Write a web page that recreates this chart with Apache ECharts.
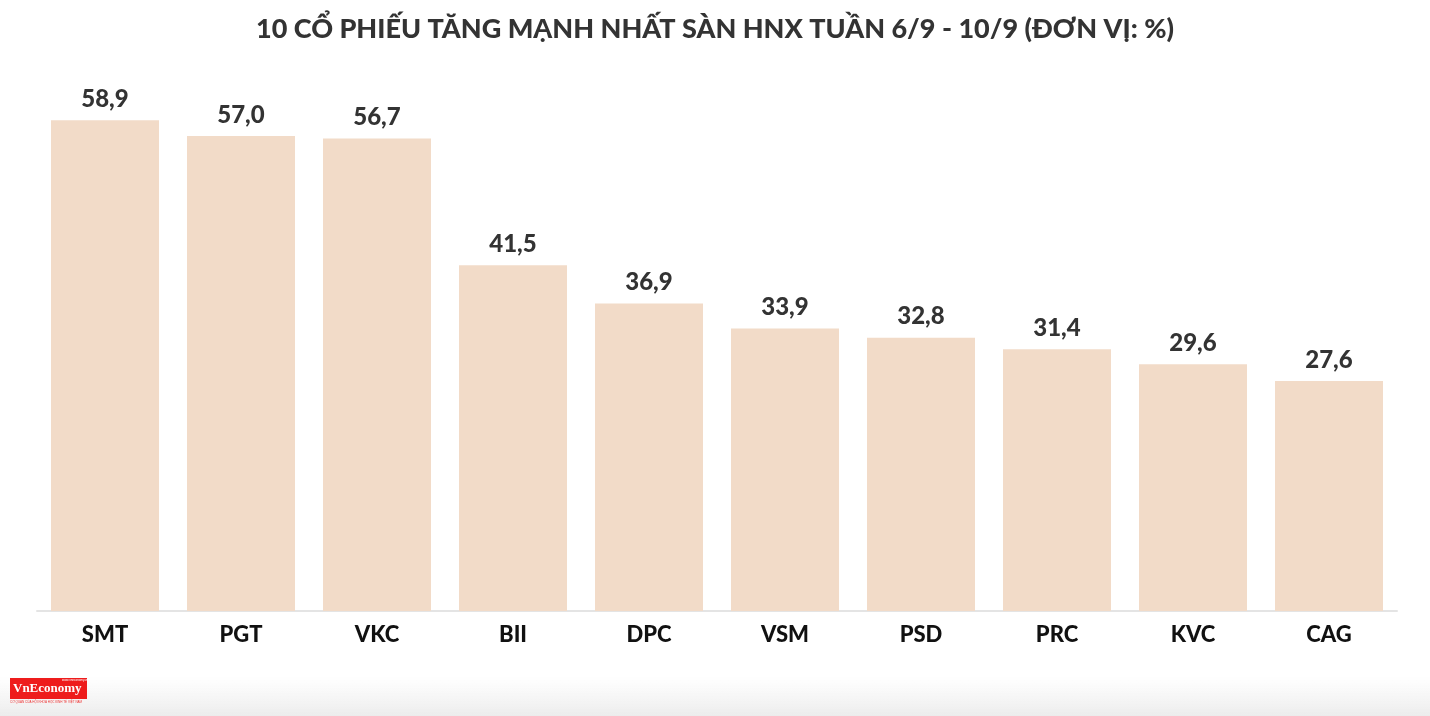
<!DOCTYPE html>
<html>
<head>
<meta charset="utf-8">
<script src="https://cdn.jsdelivr.net/npm/echarts@6/dist/echarts.min.js"></script>
<style>html,body{margin:0;padding:0;background:#fff;}#c{width:1430px;height:716px;}</style>
</head>
<body>
<div id="c"></div>
<script>
var categories = ['SMT','PGT','VKC','BII','DPC','VSM','PSD','PRC','KVC','CAG'];
var values = [58.9, 57.0, 56.7, 41.5, 36.9, 33.9, 32.8, 31.4, 29.6, 27.6];
var titleText = '10 CỔ PHIẾU TĂNG MẠNH NHẤT SÀN HNX TUẦN 6/9 - 10/9 (ĐƠN VỊ: %)';

var chart = echarts.init(document.getElementById('c'));
chart.setOption({
  animation: false,
  title: {
    text: titleText,
    left: 'center',
    top: 11,
    textStyle: {fontFamily: 'Lato', fontWeight: 900, fontSize: 27, color: '#333'}
  },
  grid: {left: 37, right: 33, top: 111, bottom: 105},
  xAxis: {
    type: 'category',
    data: categories,
    axisLine: {lineStyle: {color: '#e4e4e4', width: 2}},
    axisTick: {alignWithLabel: true, length: 5, lineStyle: {color: '#e4e4e4', width: 2}},
    axisLabel: {color: '#111', fontFamily: 'Lato', fontWeight: 900, fontSize: 22, margin: 13}
  },
  yAxis: {
    type: 'value', min: 0, max: 60,
    show: false,
    splitLine: {show: false}
  },
  series: [{
    type: 'bar',
    data: values,
    barWidth: 108,
    itemStyle: {color: '#f2dbc8'},
    label: {
      show: true, position: 'top', distance: 9,
      color: '#333', fontFamily: 'Lato', fontWeight: 900, fontSize: 24,
      formatter: function(p){ return p.value.toFixed(1).replace('.', ','); }
    }
  }],
  graphic: [
    {type: 'rect', left: 0, top: 676, shape: {width: 1430, height: 40}, z: -1,
     style: {fill: new echarts.graphic.LinearGradient(0,0,0,1,[{offset:0,color:'rgba(240,240,240,0)'},{offset:1,color:'rgba(236,236,236,1)'}])}},
    {type: 'rect', left: 10, top: 678, shape: {width: 77, height: 21}, style: {fill: '#ee1c1c'}},
    {type: 'text', left: 13, top: 682, style: {text: 'VnEconomy', fill: '#fff', font: 'bold 13px "Liberation Serif"'}},
    {type: 'text', left: 62, top: 679, style: {text: 'www.vneconomy.vn', fill: '#fff', font: '3px sans-serif'}},
    {type: 'text', left: 10, top: 701, style: {text: 'CƠ QUAN CỦA HỘI KHOA HỌC KINH TẾ VIỆT NAM', fill: '#e33', font: '3px sans-serif'}}
  ]
});
</script>
</body>
</html>
